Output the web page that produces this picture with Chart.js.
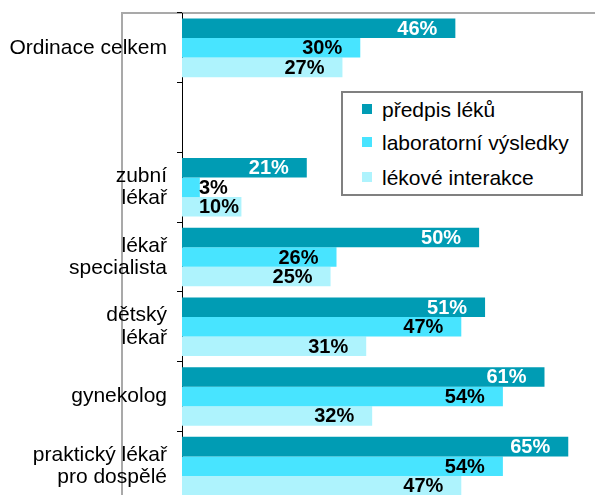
<!DOCTYPE html>
<html><head><meta charset="utf-8">
<script src="https://cdn.jsdelivr.net/npm/chart.js@4.4.0/dist/chart.umd.min.js"></script>
<style>
html,body{margin:0;padding:0;overflow:hidden;background:#fff;width:595px;height:495px;}
#wrap{position:relative;width:595px;height:501px;}
#frame{position:absolute;left:121px;top:12px;width:600px;height:600px;border-left:2px solid #a9a9a9;border-top:2px solid #a9a9a9;}
canvas{position:absolute;left:0;top:0;}
#legend{position:absolute;left:341px;top:91px;width:238px;height:101px;border:2px solid #808080;background:#fff;font-family:'Liberation Sans',Arial,sans-serif;font-size:21px;color:#000;}
.item{position:absolute;left:19px;height:24px;line-height:24px;white-space:nowrap;}
.sw{display:inline-block;width:10px;height:10px;margin-right:10px;vertical-align:middle;position:relative;top:-2px;}
</style></head>
<body><div id="wrap"><div id="frame"></div><canvas id="c" width="595" height="501"></canvas><div id="legend"></div></div>
<script>
const categories = ["Ordinace celkem", "", ["zubní","lékař"], ["lékař","specialista"], ["dětský","lékař"], "gynekolog", ["praktický lékař","pro dospělé"]];
const seriesNames = ["předpis léků", "laboratorní výsledky", "lékové interakce"];
const predpisLeku = [46, null, 21, 50, 51, 61, 65];
const laboratorniVysledky = [30, null, 3, 26, 47, 54, 54];
const lekoveInterakce = [27, null, 10, 25, 31, 32, 47];
const seriesColors = ["#009cb4", "#48e4ff", "#aef3fd"];
const labelColors = ["#ffffff", "#000000", "#000000"];

const FONT = "'Liberation Sans', Arial, sans-serif";

const valueLabels = {
  id: 'valueLabels',
  afterDatasetsDraw(chart) {
    const ctx = chart.ctx;
    ctx.save();
    ctx.font = 'bold 20px ' + FONT;
    ctx.textBaseline = 'middle';
    ctx.textAlign = 'left';
    chart.data.datasets.forEach((ds, di) => {
      const meta = chart.getDatasetMeta(di);
      meta.data.forEach((bar, i) => {
        const v = ds.data[i];
        if (v == null) return;
        const t = v + '%';
        const w = ctx.measureText(t).width;
        let x = bar.x - 18 - w;
        const minX = bar.base + 17;
        if (x < minX) x = minX;
        ctx.fillStyle = labelColors[di];
        ctx.fillText(t, x, bar.y + 1);
      });
    });
    ctx.restore();
  }
};

const chart = new Chart(document.getElementById('c'), {
  type: 'bar',
  data: {
    labels: categories,
    datasets: [
      { label: seriesNames[0], data: predpisLeku, backgroundColor: seriesColors[0] },
      { label: seriesNames[1], data: laboratorniVysledky, backgroundColor: seriesColors[1] },
      { label: seriesNames[2], data: lekoveInterakce, backgroundColor: seriesColors[2] }
    ]
  },
  options: {
    indexAxis: 'y',
    responsive: false,
    animation: false,
    layout: { padding: { top: 13, left: 0, right: 0, bottom: 0 } },
    datasets: { bar: { categoryPercentage: 0.84, barPercentage: 1.0, borderWidth: 0 } },
    scales: {
      x: { display: false, min: 0, max: 69.5 },
      y: {
        offset: true,
        grid: { display: true, drawOnChartArea: false, drawTicks: true, tickLength: 5, color: '#000', offset: true },
        border: { display: true, color: '#000', width: 1 },
        ticks: { color: '#000', font: { family: FONT, size: 21, lineHeight: 1.05 }, padding: 10, autoSkip: false },
        afterFit(s) { s.width = 182; s.paddingTop = 0; s.paddingBottom = 0; }
      }
    },
    plugins: { legend: { display: false }, tooltip: { enabled: false }, title: { display: false } }
  },
  plugins: [valueLabels]
});

const lg = document.getElementById('legend');
const tops = [5, 38, 73];
chart.data.datasets.forEach((ds, i) => {
  const d = document.createElement('div');
  d.className = 'item';
  d.style.top = tops[i] + 'px';
  const s = document.createElement('span');
  s.className = 'sw';
  s.style.background = ds.backgroundColor;
  d.appendChild(s);
  d.appendChild(document.createTextNode(ds.label));
  lg.appendChild(d);
});
</script>
</body></html>
